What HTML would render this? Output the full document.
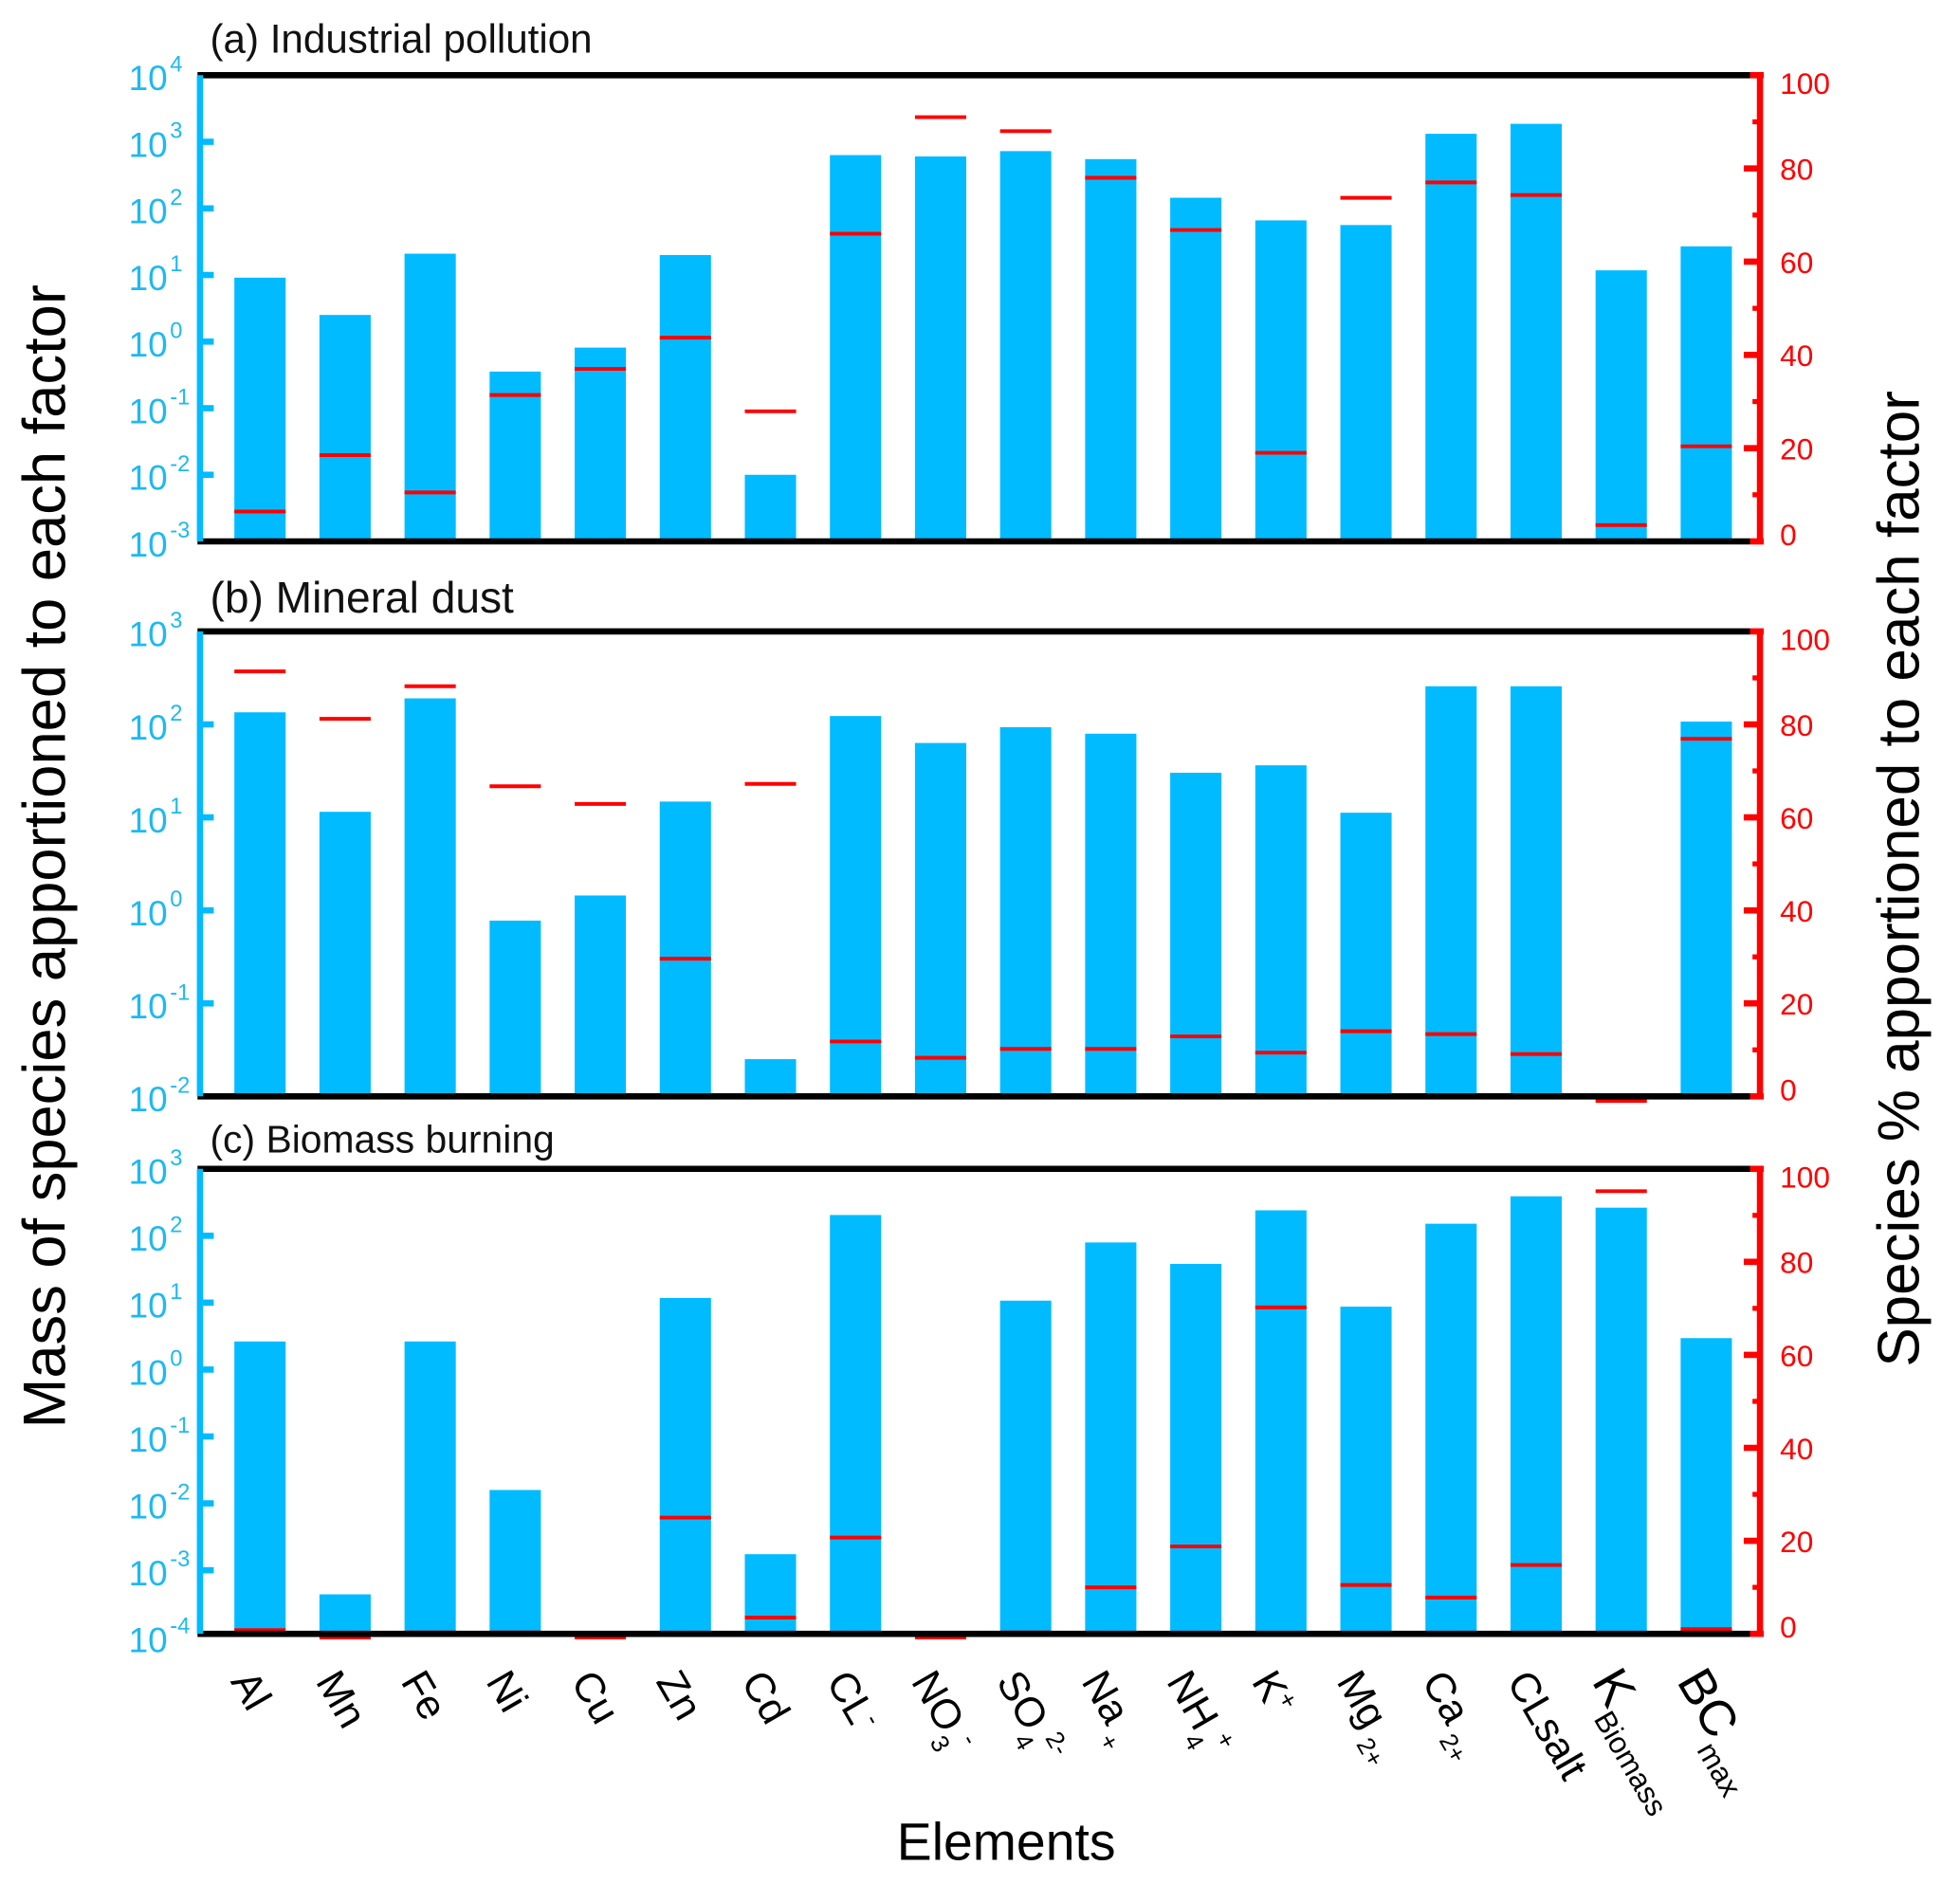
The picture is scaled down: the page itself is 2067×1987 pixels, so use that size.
<!DOCTYPE html>
<html><head><meta charset="utf-8"><style>
html,body{margin:0;padding:0;background:#fff}
svg{display:block}
text{font-family:"Liberation Sans",sans-serif}
</style></head><body>
<svg id="chart" xmlns="http://www.w3.org/2000/svg" width="2067" height="1987" viewBox="0 0 1568 1507">
<g id="root"></g>
<text x="805" y="1488" font-size="42" text-anchor="middle" fill="#000">Elements</text>
<text transform="translate(52 685) rotate(-90)" font-size="48" text-anchor="middle" fill="#000">Mass of species apportioned to each factor</text>
<text transform="translate(1535 703) rotate(-90)" font-size="47" text-anchor="middle" fill="#000">Species % apportioned to each factor</text>
</svg>
<script>
const categories = ["Al","Mn","Fe","Ni","Cu","Zn","Cd","CL-","NO3-","SO42-","Na+","NH4+","K+","Mg2+","Ca2+","CLsalt","KBiomass","BCmax"];
const massA = [0.96,0.40,1.32,-0.45,-0.09,1.30,-2.0,2.80,2.78,2.86,2.74,2.16,1.82,1.75,3.12,3.27,1.07,1.43];
const massB = [2.13,1.06,2.28,-0.11,0.16,1.17,-1.6,2.09,1.80,1.97,1.90,1.48,1.56,1.05,2.41,2.41,null,2.03];
const massC = [0.42,-3.36,0.42,-1.8,null,1.07,-2.76,2.31,null,1.03,1.90,1.58,2.38,0.94,2.18,2.59,2.42,0.47];
const pctA = [6.4,18.5,10.5,31.4,37,43.7,27.9,66,91,88,78,66.8,19,73.7,77,74.3,3.5,20.4];
const pctB = [91.4,81.2,88.2,66.7,62.9,29.6,67.2,11.8,8.3,10.2,10.2,12.9,9.4,14,13.4,9.1,-1,76.9];
const pctC = [0.8,-0.8,0.3,0.3,-0.8,25,3.5,20.7,-0.8,0.3,10,18.8,70.2,10.5,7.8,14.8,95.2,1];
const panelTitles = ["(a) Industrial pollution","(b) Mineral dust","(c) Biomass burning"];
const leftTicksA = [-3,-2,-1,0,1,2,3,4];
const leftTicksB = [-2,-1,0,1,2,3];
const leftTicksC = [-4,-3,-2,-1,0,1,2,3];
const rightTicks = [0,20,40,60,80,100];

const NS="http://www.w3.org/2000/svg";
const root=document.getElementById('root');
const BLUE="#00BBFF", LBLUE="#1DB9F2", RED="#FF0000";
function mk(tag,attrs,parent){const e=document.createElementNS(NS,tag);for(const k in attrs)e.setAttribute(k,attrs[k]);(parent||root).appendChild(e);return e;}

const X0=160, X1=1400, RX=1408;
const xCenter = i => 208 + i*68.06;
const BW=41;

const panels=[
 {top:60,bot:433,lmin:-3,lmax:4,mass:massA,pct:pctA,ticks:leftTicksA,title:panelTitles[0],ty:42,tfs:32,key:'a'},
 {top:505,bot:877,lmin:-2,lmax:3,mass:massB,pct:pctB,ticks:leftTicksB,title:panelTitles[1],ty:490,tfs:35,key:'b'},
 {top:935,bot:1307,lmin:-3.95,lmax:3,mass:massC,pct:pctC,ticks:leftTicksC,title:panelTitles[2],ty:922,tfs:31,key:'c'}
];

panels.forEach(p=>{
  const g=mk('g',{});
  
  
  const yL=v=>p.bot-(v-p.lmin)/(p.lmax-p.lmin)*(p.bot-p.top);
  const yR=v=>p.bot-v/100*(p.bot-p.top);
  const t=mk('text',{x:168,y:p.ty,'font-size':p.tfs,fill:'#111'},g);
  t.textContent=p.title;
  
  
  p.mass.forEach((m,i)=>{
    if(m===null) return;
    const y=yL(m);
    const r=mk('rect',{x:xCenter(i)-BW/2,y:y,width:BW,height:p.bot-y,fill:BLUE},g);
    
    
  });
  p.pct.forEach((v,i)=>{
    const y=yR(v);
    const l=mk('line',{x1:xCenter(i)-BW/2,x2:xCenter(i)+BW/2,y1:y,y2:y,stroke:RED,'stroke-width':3},g);
    
    
  });
  const ft=mk('line',{x1:X0-2,x2:X1,y1:p.top,y2:p.top,stroke:'#000','stroke-width':5},g);
  
  
  const fb=mk('line',{x1:X0-2,x2:X1,y1:p.bot,y2:p.bot,stroke:'#000','stroke-width':5},g);
  
  
  mk('line',{x1:X1,x2:RX+3,y1:p.top,y2:p.top,stroke:RED,'stroke-width':5},g);
  mk('line',{x1:X1,x2:RX+3,y1:p.bot,y2:p.bot,stroke:RED,'stroke-width':5},g);
  const la=mk('line',{x1:X0,x2:X0,y1:p.top,y2:p.bot,stroke:BLUE,'stroke-width':5},g);
  
  
  p.ticks.forEach(v=>{
    const y=yL(v);
    if(y>p.top+2 && y<p.bot-2) mk('line',{x1:X0,x2:X0+11,y1:y,y2:y,stroke:BLUE,'stroke-width':5},g);
    const tx=mk('text',{x:134,y:y+12,'font-size':28,fill:LBLUE,'text-anchor':'end'},g);
    tx.textContent='10';
    
    
    const sp=mk('text',{x:136,y:y-3,'font-size':18,fill:LBLUE},g);
    sp.textContent=String(v);
  });
  const ra=mk('line',{x1:RX,x2:RX,y1:p.top-2,y2:p.bot+2,stroke:RED,'stroke-width':5},g);
  
  
  for(let v=10;v<100;v+=20){const y=yR(v);mk('line',{x1:RX-6,x2:RX,y1:y,y2:y,stroke:RED,'stroke-width':4},g);}
  rightTicks.forEach(v=>{
    const y=yR(v);
    if(v>0&&v<100) mk('line',{x1:RX-13,x2:RX,y1:y,y2:y,stroke:RED,'stroke-width':5},g);
    const tx=mk('text',{x:1424,y:y+9+(v===100?6:0)-(v===0?6:0),'font-size':24,fill:RED},g);
    tx.textContent=String(v);
    
    
  });
});

const labelParts = [
 [["Al",""]],[["Mn",""]],[["Fe",""]],[["Ni",""]],[["Cu",""]],[["Zn",""]],[["Cd",""]],
 [["CL",""],["-","sup"]],[["NO",""],["3","sub"],["-","sup"]],[["SO",""],["4","sub"],["2-","sup"]],
 [["Na",""],[" +","sub"]],[["NH",""],["4","sub"],["+","sup"]],[["K",""],["+","sup"]],
 [["Mg",""],[" 2+","sub"]],[["Ca",""],[" 2+","sub"]],[["CLsalt",""]],[["K",""],["Biomass","sub"]],[["BC",""],["max","sub"]]
];
labelParts.forEach((parts,i)=>{
  const x=xCenter(i)-24, y=1345;
  const big=(i>=16)?40:33;
  const t=mk('text',{x:x,y:y,'font-size':big,fill:'#000',transform:`rotate(60 ${x} ${y})`});
  
  
  parts.forEach(([s,kind])=>{
    const ts=mk('tspan',{},t);
    if(kind==='sup'){ts.setAttribute('baseline-shift','super');ts.setAttribute('font-size',20);}
    if(kind==='sub'){ts.setAttribute('baseline-shift','sub');ts.setAttribute('font-size',i>=16?24:20);}
    ts.textContent=s;
  });
});
</script>
</body></html>
